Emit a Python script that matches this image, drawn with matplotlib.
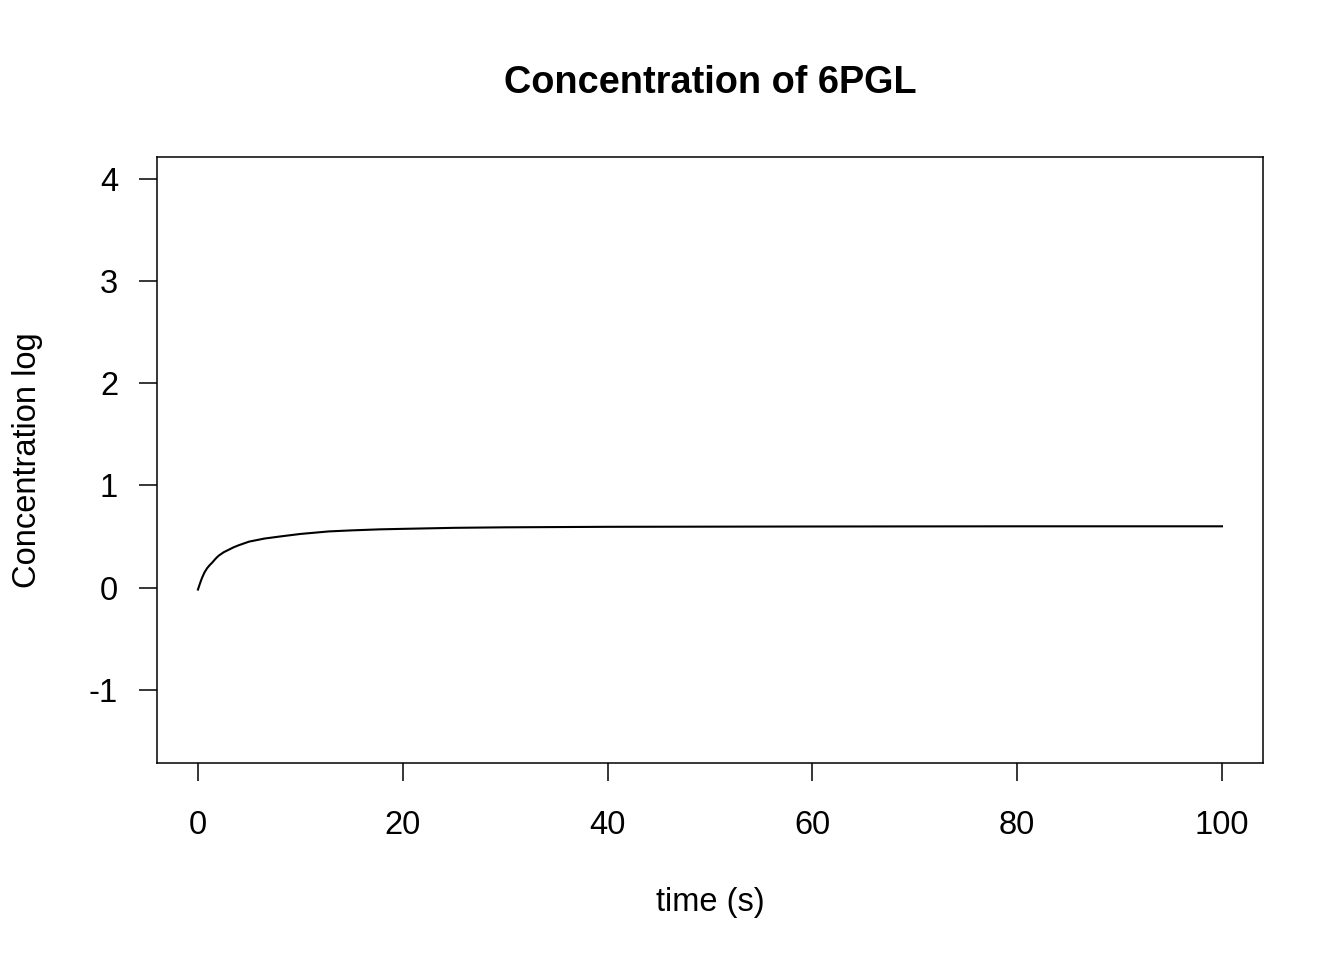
import matplotlib
matplotlib.use("Agg")
import matplotlib.pyplot as plt
import numpy as np

plt.rcParams['font.family'] = ['Liberation Sans', 'DejaVu Sans']

# curve
time_s = [0, 0.2, 0.4, 0.65, 0.9, 1.15, 1.4, 1.7, 2.0, 2.5, 3.0, 3.5, 4.0, 5.0, 6.5, 8.0, 10,
          12.8, 15, 17.7, 20, 25, 30, 40, 60, 80, 100]
conc_log = [-0.02, 0.04, 0.095, 0.15, 0.19, 0.22, 0.245, 0.28, 0.31, 0.345, 0.37, 0.395, 0.415,
            0.45, 0.48, 0.50, 0.525, 0.55, 0.56, 0.57, 0.575, 0.585, 0.59, 0.595, 0.598, 0.6, 0.6]

x_ticks = [0, 20, 40, 60, 80, 100]
y_ticks = [-1, 0, 1, 2, 3, 4]

fig = plt.figure(figsize=(13.44, 9.6), dpi=100)
ax = fig.add_axes([0.1168, 0.2052, 0.8229, 0.6313])
ax.plot(time_s, conc_log, color='black', lw=1.5)
ax.set_xlim(-4, 104)
ax.set_ylim(-1.72, 4.22)
ax.set_xticks(x_ticks)
ax.set_yticks(y_ticks)
ax.set_xticklabels([str(v) for v in x_ticks])
ax.set_yticklabels([str(v) for v in y_ticks])
ax.tick_params(axis='both', length=13, width=1.1, labelsize=23.5, color='black')
ax.tick_params(axis='x', pad=21)
ax.tick_params(axis='y', pad=15)
for s in ax.spines.values():
    s.set_linewidth(1.1)

ax.set_xlabel('time (s)', fontsize=23.5, labelpad=33)
ax.set_ylabel('Concentration log', fontsize=23.5, labelpad=33)
fig.text(0.5285, 0.914, 'Concentration of 6PGL', ha='center', va='center',
         fontsize=27.3, fontweight='bold')

fig.savefig('out.png', dpi=100)
